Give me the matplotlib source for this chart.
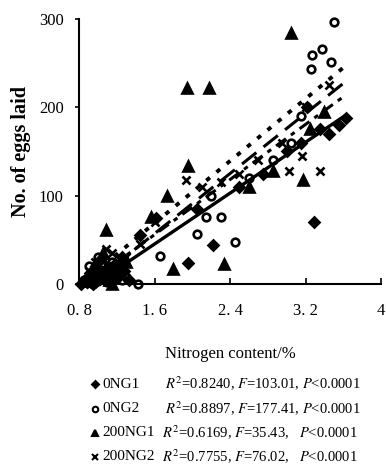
import numpy as np
import matplotlib
matplotlib.use('Agg')
import matplotlib.pyplot as plt
from matplotlib.lines import Line2D

### Eggs laid vs. leaf nitrogen content, four treatments with linear fits.

plt.rcParams['font.family'] = ['Liberation Serif', 'DejaVu Serif']
plt.rcParams['mathtext.fontset'] = 'stix'

groups = ['0NG1', '0NG2', '200NG1', '200NG2']
stats = [r'$R^2$=0.8240, $F$=103.01, $P$<0.0001',
         r'$R^2$=0.8897, $F$=177.41, $P$<0.0001',
         r'$R^2$=0.6169, $F$=35.43,   $P$<0.0001',
         r'$R^2$=0.7755, $F$=76.02,   $P$<0.0001']

x_0ng1 = [0.82, 0.86, 0.88, 0.92, 0.95, 0.98, 1.0, 1.03, 1.05, 1.1, 1.12, 1.15, 1.18,
          1.2, 1.25, 1.28, 1.33, 1.45, 1.62, 1.95, 2.05, 2.22, 2.5, 2.75, 3.0,
          3.15, 3.22, 3.29, 3.35, 3.45, 3.55, 3.63]
y_0ng1 = [0, 4, 2, 12, 0, 20, 5, 28, 10, 18, 3, 12, 22,
          8, 30, 15, 5, 55, 75, 24, 85, 44, 110, 125, 150,
          160, 200, 70, 175, 170, 180, 188]

x_0ng2 = [0.85, 0.9, 0.95, 1.0, 1.02, 1.05, 1.1, 1.15, 1.18, 1.2, 1.25, 1.3, 1.42,
          1.66, 2.05, 2.14, 2.2, 2.3, 2.45, 2.6, 2.85, 3.05, 3.15, 3.26, 3.27,
          3.38, 3.47, 3.5]
y_0ng2 = [5, 20, 0, 30, 12, 10, 2, 25, 6, 15, 4, 8, 0,
          32, 57, 76, 100, 76, 47, 120, 140, 159, 190, 243, 259,
          266, 251, 297]

x_200ng1 = [0.9, 0.95, 1.0, 1.05, 1.08, 1.12, 1.15, 1.2, 1.22, 1.3, 1.56, 1.73,
            1.8, 1.94, 1.95, 2.18, 2.34, 2.6, 2.85, 3.05, 3.17, 3.25, 3.4]
y_200ng1 = [3, 18, 10, 35, 61, 5, 0, 12, 20, 25, 76, 99,
            17, 222, 133, 222, 23, 110, 128, 284, 118, 175, 195]

x_200ng2 = [0.85, 0.9, 0.92, 0.97, 1.0, 1.05, 1.08, 1.1, 1.15, 1.2, 1.25, 1.3,
            1.45, 1.6, 1.93, 2.1, 2.3, 2.5, 2.7, 2.95, 3.03, 3.16, 3.2, 3.35, 3.45]
y_200ng2 = [0, 15, 5, 25, 12, 3, 40, 20, 35, 8, 14, 30,
            45, 70, 118, 110, 115, 125, 140, 160, 128, 145, 200, 128, 225]

# fitted lines: slope, intercept, x range
slopes = [72, 85, 88, 78]
intercepts = [-70, -79, -72, -69]
fit_lo = [0.97, 0.93, 0.85, 0.9]
fit_hi = [3.63, 3.63, 3.63, 3.63]

xs = [x_0ng1, x_0ng2, x_200ng1, x_200ng2]
ys = [y_0ng1, y_0ng2, y_200ng1, y_200ng2]
markers = ['D', 'o', '^', 'x']
msizes = [5, 5.5, 7, 5.5]
leg_sizes = [3.5, 4, 4.5, 4]
fills = ['k', 'none', 'k', 'k']
lstyles = ['-', (0, (6, 3)), (0, (1.2, 2.2)), (0, (4, 2, 1.5, 2))]
lwidths = [2.4, 2.2, 2.8, 2.2]

fig = plt.figure(figsize=(3.86, 4.74), dpi=100)
ax = fig.add_axes([0.205, 0.401, 0.782, 0.559])

for i in range(4):
    ax.plot(xs[i], ys[i], linestyle='none', marker=markers[i], ms=msizes[i],
            mfc=fills[i], mec='k', mew=1.9, clip_on=False, zorder=3)
    xx = np.array([fit_lo[i], fit_hi[i]])
    ax.plot(xx, slopes[i] * xx + intercepts[i], color='k', ls=lstyles[i],
            lw=lwidths[i], zorder=2)

ax.set_xlim(0.8, 4)
ax.set_ylim(0, 300)
ax.set_xticks([0.8, 1.6, 2.4, 3.2, 4])
ax.set_xticklabels(['0. 8', '1. 6', '2. 4', '3. 2', '4'])
ax.set_yticks([0, 100, 200, 300])
ax.spines['top'].set_visible(False)
ax.spines['right'].set_visible(False)
ax.spines['left'].set_linewidth(1.5)
ax.spines['bottom'].set_linewidth(1.5)
ax.tick_params(axis='x', direction='in', length=4, width=1.2, labelsize=12, pad=14)
ax.tick_params(axis='y', direction='out', length=3, width=1.2, labelsize=12, pad=8)
ax.set_ylabel('No. of eggs laid', fontsize=14.5, fontweight='bold', labelpad=6)
ax.set_xlabel('Nitrogen content/%', fontsize=12, labelpad=19)

# legend block under the plot
row_y = [384, 409, 433, 457]
stat_x = [165, 165, 162, 162]
for i in range(4):
    yf = 1 - row_y[i] / 474
    fig.add_artist(Line2D([95 / 386], [yf], marker=markers[i], ms=leg_sizes[i],
                          mfc=fills[i], mec='k', mew=1.5, transform=fig.transFigure))
    fig.text(102 / 386, yf, groups[i], fontsize=11, va='center', ha='left')
    fig.text(stat_x[i] / 386, yf, stats[i], fontsize=10.5, va='center', ha='left')

fig.savefig('out.png', dpi=100)
